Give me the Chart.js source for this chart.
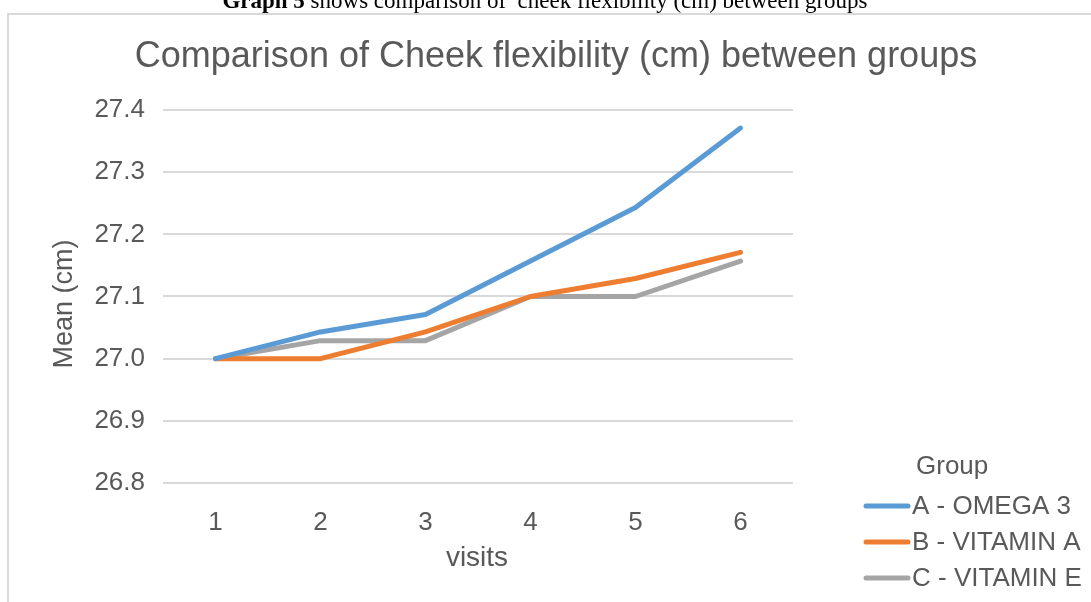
<!DOCTYPE html>
<html>
<head>
<meta charset="utf-8">
<script src="https://cdn.jsdelivr.net/npm/chart.js@4.4.1/dist/chart.umd.min.js"></script>
<style>
  html, body { margin: 0; padding: 0; background: #ffffff; }
  #wrap { position: relative; width: 1091px; height: 602px; overflow: hidden; }
  canvas { display: block; }
</style>
</head>
<body>
<div id="wrap"><canvas id="c" width="1091" height="602"></canvas></div>
<script>
// Visits on the x axis
const visits = ['1', '2', '3', '4', '5', '6'];

// Mean cheek flexibility (cm) per group at each visit
const omega3   = [27.000, 27.043, 27.071, 27.157, 27.243, 27.371];
const vitaminA = [27.000, 27.000, 27.043, 27.100, 27.129, 27.171];
const vitaminE = [27.000, 27.029, 27.029, 27.100, 27.100, 27.157];

// Group names and y tick range
const groupNames = ['A - OMEGA 3', 'B - VITAMIN A', 'C - VITAMIN E'];
const yMin = 26.8, yMax = 27.4, yStep = 0.1;

const captionBold = 'Graph 5';
const captionRest = ' shows comparison of  cheek flexibility (cm) between groups';
const chartTitle = 'Comparison of Cheek flexibility (cm) between groups';
const xTitle = 'visits';
const yTitle = 'Mean (cm)';
const legendTitle = 'Group';

const SANS = '"Liberation Sans", Arial, Helvetica, sans-serif';
const SERIF = '"Liberation Serif", "Times New Roman", serif';
const TEXT = '#595959';

const decor = {
  id: 'decor',
  beforeDraw(chart) {
    const ctx = chart.ctx;
    ctx.save();
    ctx.fillStyle = '#ffffff';
    ctx.fillRect(0, 0, chart.width, chart.height);

    // caption line above the chart frame
    ctx.fillStyle = '#000000';
    ctx.textBaseline = 'alphabetic';
    ctx.font = 'bold 23px ' + SERIF;
    const wB = ctx.measureText(captionBold).width;
    ctx.font = '23px ' + SERIF;
    const wR = ctx.measureText(captionRest).width;
    const cx = 545 - (wB + wR) / 2;
    ctx.textAlign = 'left';
    ctx.font = 'bold 23px ' + SERIF;
    ctx.fillText(captionBold, cx, 8);
    ctx.font = '23px ' + SERIF;
    ctx.fillText(captionRest, cx + wB, 8);

    // chart frame
    ctx.strokeStyle = '#d9d9d9';
    ctx.lineWidth = 2;
    ctx.beginPath();
    ctx.moveTo(8, 602);
    ctx.lineTo(8, 14);
    ctx.lineTo(1091, 14);
    ctx.stroke();
    ctx.restore();
  },
  afterDatasetsDraw(chart) {
    const ctx = chart.ctx;
    const area = chart.chartArea;
    ctx.save();
    ctx.fillStyle = TEXT;

    // chart title
    ctx.font = '36px ' + SANS;
    ctx.textAlign = 'center';
    ctx.textBaseline = 'alphabetic';
    ctx.fillText(chartTitle, 556, 67);

    // x axis title
    ctx.textBaseline = 'middle';
    ctx.font = '28px ' + SANS;
    ctx.fillText(xTitle, 477, 558);

    // y axis title
    ctx.save();
    ctx.translate(65, 304);
    ctx.rotate(-Math.PI / 2);
    ctx.font = '27px ' + SANS;
    ctx.fillText(yTitle, 0, 0);
    ctx.restore();

    // legend
    ctx.textAlign = 'left';
    ctx.font = '26px ' + SANS;
    ctx.fillText(legendTitle, 916, 467);
    chart.data.datasets.forEach((ds, i) => {
      const y = 506 + i * 36;
      ctx.strokeStyle = ds.borderColor;
      ctx.lineWidth = 5;
      ctx.lineCap = 'round';
      ctx.beginPath();
      ctx.moveTo(866, y);
      ctx.lineTo(908, y);
      ctx.stroke();
      ctx.fillStyle = TEXT;
      ctx.font = '26px ' + SANS;
      ctx.fillText(ds.label, 912, y + 1);
    });
    ctx.restore();
  }
};

const line = (label, data, color) => ({
  label, data,
  borderColor: color,
  backgroundColor: color,
  borderWidth: 5,
  borderCapStyle: 'round',
  borderJoinStyle: 'round',
  pointRadius: 0,
  tension: 0,
  fill: false
});

new Chart(document.getElementById('c'), {
  type: 'line',
  data: {
    labels: visits,
    datasets: [
      line(groupNames[0], omega3, '#5b9bd5'),
      line(groupNames[1], vitaminA, '#ed7d31'),
      line(groupNames[2], vitaminE, '#a5a5a5')
    ]
  },
  options: {
    responsive: false,
    animation: false,
    layout: { padding: { left: 0, top: 110, right: 1091 - 793, bottom: 602 - 483 - 90 } },
    plugins: {
      legend: { display: false },
      title: { display: false },
      tooltip: { enabled: false }
    },
    scales: {
      x: {
        offset: true,
        grid: { display: false, drawTicks: false },
        border: { display: false },
        ticks: { color: TEXT, font: { family: SANS, size: 26 }, padding: 24 },
        afterFit(s) { s.height = 90; }
      },
      y: {
        min: yMin,
        max: yMax,
        grid: { color: '#d9d9d9', lineWidth: 2, drawTicks: false },
        border: { display: false },
        ticks: {
          stepSize: yStep,
          color: TEXT,
          font: { family: SANS, size: 26 },
          padding: 18,
          callback: v => Number(v).toFixed(1)
        },
        afterFit(s) { s.width = 163; }
      }
    }
  },
  plugins: [decor]
});
</script>
</body>
</html>
